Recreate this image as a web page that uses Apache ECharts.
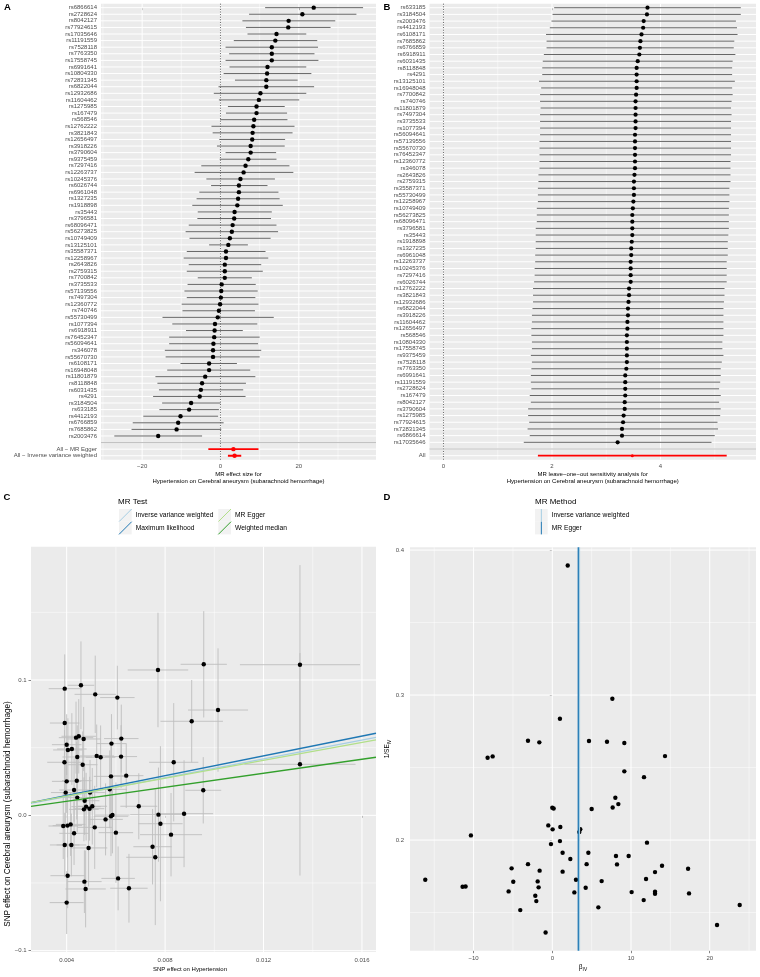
<!DOCTYPE html>
<html>
<head>
<meta charset="utf-8">
<script src="https://cdn.jsdelivr.net/npm/echarts@6.0.0/dist/echarts.min.js"></script>
<style>
html,body{margin:0;padding:0;background:#ffffff;}
#chart{width:760px;height:977px;}
</style>
</head>
<body>
<div id="chart"></div>
<script>
// ================= DATA =================
// Panel A: single SNP forest plot
const snpA = ['rs6866614','rs2728624','rs8042127','rs77924615','rs17035646','rs11191559','rs7528118','rs7763350','rs17558745','rs6991641','rs10804330','rs72831345','rs6822044','rs12932686','rs11604462','rs1275985','rs167479','rs568546','rs12762222','rs3821843','rs12656497','rs3918226','rs3790604','rs9375459','rs7297416','rs12263737','rs10245376','rs6026744','rs6961048','rs1327235','rs1918898','rs35443','rs3796581','rs68096471','rs56273825','rs10749409','rs13125101','rs35587371','rs12258967','rs2643826','rs2759315','rs7700842','rs3735533','rs57139556','rs7497304','rs12360772','rs740746','rs55730499','rs1077394','rs6918911','rs76452347','rs56094641','rs346078','rs55670730','rs6108171','rs16948048','rs11801879','rs8118848','rs6031435','rs4291','rs3184504','rs633185','rs4412193','rs6766859','rs7685862','rs2003476'];
const betaA = [23.8,20.9,17.4,17.3,14.3,14.0,13.1,13.1,13.1,12.0,11.9,11.7,11.7,10.2,9.8,9.2,9.2,8.6,8.4,8.2,8.1,7.7,7.7,7.1,6.4,5.9,5.1,4.7,4.7,4.5,4.3,3.6,3.5,3.1,2.9,2.4,2.0,1.4,1.4,1.1,1.1,1.1,0.3,0.2,0.1,-0.1,-0.4,-0.7,-1.4,-1.5,-1.6,-1.8,-1.9,-1.9,-2.9,-2.9,-3.9,-4.7,-5.0,-5.3,-7.5,-8.0,-10.2,-10.8,-11.2,-15.9];
const lowA = [11.4,7.3,5.6,6.5,6.9,3.4,1.3,2.2,1.3,2.3,0.8,3.7,-0.5,-1.7,-0.4,1.9,1.4,-0.1,-2.3,-2.0,-0.3,-0.9,1.3,-0.2,-4.9,-6.6,-3.6,-2.4,-5.4,-6.1,-7.2,-5.8,-5.9,-8.1,-8.9,-7.9,-2.9,-8.6,-9.4,-8.1,-8.6,-5.8,-8.4,-9.2,-8.6,-9.9,-9.7,-14.8,-12.3,-8.8,-13.1,-13.1,-14.2,-14.0,-10.2,-13.6,-16.6,-16.1,-15.7,-17.2,-14.9,-15.6,-19.7,-22.4,-22.7,-27.1];
const highA = [36.4,34.7,29.3,28.1,21.9,24.7,24.9,24.0,25.0,21.9,23.2,19.7,23.9,21.9,20.1,16.4,17.0,17.1,18.9,18.4,16.5,16.4,14.2,14.3,17.6,18.6,13.9,12.0,14.8,15.1,15.9,13.1,12.9,14.3,14.7,12.8,7.0,11.5,12.2,10.4,10.8,8.0,9.0,9.5,8.9,9.7,8.8,13.6,9.4,5.7,10.0,9.6,10.4,10.0,4.2,7.6,8.9,6.5,5.8,6.4,0.0,-0.4,-0.6,0.8,0.2,-4.7];
const summaryLabelsA = ['All \u2212 MR Egger', 'All \u2212 Inverse variance weighted'];
const summaryBetaA = [3.3, 3.6];
const summaryLowA = [-3.1, 1.9];
const summaryHighA = [9.7, 5.3];
const ticksA = [-20, 0, 20];
const minorTicksA = [-30, -10, 10, 30];
const nullEffect = [0];

// Panel B: leave-one-out
const snpB = ['rs633185','rs3184504','rs2003476','rs4412193','rs6108171','rs7685862','rs6766859','rs6918911','rs6031435','rs8118848','rs4291','rs13125101','rs16948048','rs7700842','rs740746','rs11801879','rs7497304','rs3735533','rs1077394','rs56094641','rs57139556','rs55670730','rs76452347','rs12360772','rs346078','rs2643826','rs2759315','rs35587371','rs55730499','rs12258967','rs10749409','rs56273825','rs68096471','rs3796581','rs35443','rs1918898','rs1327235','rs6961048','rs12263737','rs10245376','rs7297416','rs6026744','rs12762222','rs3821843','rs12932686','rs6822044','rs3918226','rs11604462','rs12656497','rs568546','rs10804330','rs17558745','rs9375459','rs7528118','rs7763350','rs6991641','rs11191559','rs2728624','rs167479','rs8042127','rs3790604','rs1275985','rs77924615','rs72831345','rs6866614','rs17035646'];
const betaB = [3.76,3.75,3.69,3.68,3.65,3.63,3.62,3.61,3.58,3.56,3.56,3.56,3.56,3.55,3.54,3.54,3.54,3.54,3.54,3.53,3.53,3.53,3.53,3.53,3.53,3.52,3.51,3.51,3.51,3.50,3.49,3.48,3.48,3.48,3.48,3.47,3.46,3.46,3.45,3.45,3.45,3.45,3.42,3.42,3.41,3.40,3.40,3.39,3.39,3.38,3.38,3.38,3.38,3.38,3.37,3.35,3.35,3.35,3.35,3.34,3.34,3.32,3.31,3.29,3.29,3.21];
const lowB = [2.04,2.01,1.99,1.96,1.89,1.90,1.90,1.85,1.83,1.82,1.82,1.76,1.80,1.78,1.78,1.79,1.78,1.78,1.78,1.78,1.77,1.77,1.77,1.77,1.77,1.75,1.75,1.74,1.74,1.74,1.72,1.72,1.72,1.70,1.70,1.70,1.70,1.69,1.69,1.68,1.68,1.67,1.65,1.65,1.65,1.64,1.63,1.63,1.62,1.62,1.63,1.63,1.61,1.63,1.62,1.61,1.61,1.62,1.59,1.61,1.56,1.56,1.58,1.55,1.59,1.48];
const highB = [5.48,5.48,5.39,5.41,5.42,5.36,5.35,5.38,5.33,5.32,5.32,5.37,5.32,5.33,5.31,5.30,5.31,5.30,5.30,5.30,5.30,5.30,5.30,5.29,5.29,5.29,5.29,5.27,5.27,5.27,5.26,5.26,5.26,5.26,5.25,5.24,5.24,5.24,5.22,5.22,5.22,5.22,5.18,5.18,5.17,5.16,5.16,5.16,5.16,5.16,5.14,5.14,5.16,5.13,5.11,5.11,5.10,5.08,5.11,5.08,5.11,5.10,5.05,5.06,5.00,4.94];
const summaryLabelsB = ['All'];
const summaryBetaB = [3.48];
const summaryLowB = [1.74];
const summaryHighB = [5.22];
const ticksB = [0, 2, 4];
const minorTicksB = [1, 3, 5];

// Panel C: scatter of SNP effects
const snpExpC = [0.00392,0.00458,0.00516,0.00606,0.00771,0.00957,0.01348,0.01015,0.00908,0.00392,0.00400,0.00405,0.00421,0.00438,0.00449,0.00469,0.00443,0.00391,0.00465,0.00522,0.00538,0.00582,0.00622,0.00621,0.00580,0.00642,0.00835,0.00400,0.00441,0.00396,0.00430,0.00443,0.00495,0.00575,0.00473,0.00470,0.00479,0.00493,0.00504,0.00693,0.00955,0.01348,0.00773,0.00877,0.00580,0.00586,0.00558,0.00386,0.00403,0.00416,0.00514,0.00781,0.00430,0.00600,0.00824,0.00392,0.00419,0.00489,0.00749,0.00760,0.00404,0.00609,0.00472,0.00477,0.00653,0.00400];
const snpOutC = [0.0936,0.0961,0.0894,0.0870,0.1074,0.1116,0.1113,0.0778,0.0695,0.0682,0.0522,0.0483,0.0490,0.0574,0.0584,0.0564,0.0431,0.0392,0.0374,0.0439,0.0429,0.0530,0.0567,0.0434,0.0288,0.0293,0.0392,0.0251,0.0256,0.0168,0.0187,0.0131,0.0168,0.0192,0.0108,0.0044,0.0064,0.0049,0.0067,0.0067,0.0185,0.0377,0.0005,0.0012,-0.0007,0.0002,-0.0030,-0.0079,-0.0076,-0.0067,-0.0089,-0.0062,-0.0133,-0.0128,-0.0143,-0.0219,-0.0219,-0.0241,-0.0232,-0.0310,-0.0446,-0.0466,-0.0490,-0.0544,-0.0539,-0.0645];
const seExpC = [0.00065,0.00054,0.00084,0.0007,0.00123,0.00094,0.00244,0.00122,0.00127,0.0006,0.0006,0.0006,0.0006,0.0007,0.0007,0.0007,0.0006,0.0007,0.0006,0.0007,0.0006,0.0006,0.0007,0.00065,0.0007,0.0007,0.001,0.0006,0.0006,0.0006,0.0006,0.0006,0.0006,0.0007,0.0006,0.0006,0.0006,0.0006,0.0006,0.00075,0.00073,0.00226,0.00115,0.00118,0.0007,0.0007,0.0007,0.0006,0.0006,0.0006,0.0007,0.0009,0.0006,0.0007,0.00126,0.0006,0.0006,0.00076,0.00078,0.00118,0.0007,0.00068,0.0007,0.00082,0.00076,0.00069];
const seOutC = [0.0253,0.0324,0.0286,0.0235,0.0423,0.0393,0.0736,0.0456,0.0305,0.0240,0.0225,0.0234,0.0265,0.0266,0.0275,0.0237,0.0234,0.0238,0.0246,0.0232,0.0235,0.0218,0.0251,0.0232,0.0262,0.0239,0.0437,0.0233,0.0287,0.0237,0.0234,0.0257,0.0241,0.0288,0.0253,0.0236,0.0250,0.0236,0.0283,0.0244,0.0245,0.0822,0.0348,0.0395,0.0294,0.0283,0.0266,0.0244,0.0235,0.0233,0.0307,0.0573,0.0234,0.0371,0.0308,0.0238,0.0232,0.0285,0.0279,0.0501,0.0240,0.0236,0.0232,0.0284,0.0254,0.0232];
const methodsC = ['Inverse variance weighted', 'Maximum likelihood', 'MR Egger', 'Weighted median'];
const slopeC = [3.48, 3.66, 3.30, 2.59];
const interceptC = [0, 0, 0.001, 0];
const ticksXC = [0.004, 0.008, 0.012, 0.016];
const minorXC = [0.006, 0.010, 0.014];
const ticksYC = [-0.1, 0, 0.1];
const minorYC = [-0.05, 0.05, 0.15];

// Panel D: funnel plot
const betaIVD = [1.96,7.63,0.97,-3.09,-1.65,4.66,6.95,9.15,-8.22,-7.58,14.32,9.15,11.65,8.01,8.39,7.67,5.00,0.00,0.17,-0.51,0.04,1.02,3.43,3.55,-10.34,-0.17,0.97,12.03,1.31,4.58,2.29,8.09,9.70,-3.09,4.36,8.22,13.94,-5.17,-1.61,17.25,1.31,13.05,-16.14,3.01,11.91,-4.96,-1.86,6.27,-11.40,-11.02,-1.74,4.24,-5.55,2.80,10.08,13.05,13.05,17.37,-2.16,-2.03,11.61,-4.07,5.85,23.81,20.93,-0.85];
const invSeD = [0.3894,0.2975,0.2837,0.2685,0.2674,0.2683,0.2678,0.2669,0.2568,0.2577,0.2579,0.2474,0.2434,0.2292,0.2248,0.2225,0.2214,0.2223,0.2218,0.2101,0.2074,0.2090,0.2055,0.2075,0.2032,0.1972,0.1993,0.1982,0.1913,0.1913,0.1869,0.1890,0.1890,0.1834,0.1834,0.1832,0.1823,0.1805,0.1789,0.1802,0.1782,0.1779,0.1726,0.1726,0.1731,0.1713,0.1715,0.1717,0.1678,0.1680,0.1674,0.1671,0.1646,0.1639,0.1641,0.1644,0.1630,0.1632,0.1616,0.1579,0.1586,0.1517,0.1536,0.1552,0.1414,0.1363];
const methodsD = ['Inverse variance weighted', 'MR Egger'];
const estimateD = [3.45, 3.30];
const ticksXD = [-10, 0, 10, 20];
const minorXD = [-15, -5, 5, 15, 25];
const ticksYD = [0.2, 0.3, 0.4];
const minorYD = [0.15, 0.25, 0.35];

// ================= STYLE / LAYOUT =================
const FONT = '"Liberation Sans", Arial, Helvetica, sans-serif';
const PANEL_BG = '#EBEBEB';
const AXIS_TXT = '#4D4D4D';
const TICK_COL = '#333333';
const MAJOR = {stroke: '#FFFFFF', lineWidth: 1};
const MINOR = {stroke: '#FFFFFF', lineWidth: 0.5};
const COLORS_C = ['#A6CEE3', '#1F78B4', '#B2DF8A', '#33A02C'];
const COLORS_D = ['#A6CEE3', '#1F78B4'];
const RANGE = {
  A: {x: [-30.5, 39.7], y: [-0.6, 68.6]},
  B: {x: [-0.258, 5.76], y: [-0.6, 67.6]},
  C: {x: [0.00255, 0.01657], y: [-0.101, 0.1985]},
  D: {x: [-18.08, 25.88], y: [0.1237, 0.4019]}
};

const rowsA = snpA.concat([''], summaryLabelsA);
const rowsB = snpB.concat([''], summaryLabelsB);

function fmt(v, d) {
  const s = Math.abs(v).toFixed(d);
  return (v < -1e-12 ? '\u2212' : '') + s;
}
function idxs(arr) { return arr.map((_, i) => i); }

function valueAxis(gi, range, ticks, digits, o) {
  o = o || {};
  const ax = {
    type: 'value', gridIndex: gi, min: range[0], max: range[1],
    inverse: !!o.inverse,
    axisLine: {show: false},
    splitLine: {show: false},
    minorSplitLine: {show: false},
    axisTick: {show: o.tick !== false, customValues: ticks, length: 2.5, lineStyle: {color: TICK_COL, width: 0.6}},
    axisLabel: {
      show: true, customValues: ticks, hideOverlap: false,
      formatter: o.formatter || (v => fmt(v, digits)),
      color: AXIS_TXT, fontSize: o.fontSize || 6, fontFamily: FONT, margin: o.margin || 4
    }
  };
  if (o.name) {
    ax.name = o.name;
    ax.nameLocation = 'middle';
    ax.nameGap = o.nameGap;
    ax.nameTextStyle = Object.assign({fontSize: 6, fontFamily: FONT, color: '#000', lineHeight: 6.8}, o.nameStyle || {});
  }
  return ax;
}

function gridLinesV(ai, values, style, z, yRef) {
  return {
    type: 'custom', xAxisIndex: ai, yAxisIndex: ai, z: z, silent: true,
    data: values.map(v => [v, yRef]),
    encode: {x: 0, y: 1},
    renderItem: (params, api) => {
      const cs = params.coordSys;
      const p = api.coord([api.value(0), api.value(1)]);
      return {type: 'line', shape: {x1: p[0], y1: cs.y, x2: p[0], y2: cs.y + cs.height}, style: Object.assign({}, style)};
    }
  };
}
function gridLinesH(ai, values, style, z, xRef) {
  return {
    type: 'custom', xAxisIndex: ai, yAxisIndex: ai, z: z, silent: true,
    data: values.map(v => [xRef, v]),
    encode: {x: 0, y: 1},
    renderItem: (params, api) => {
      const cs = params.coordSys;
      const p = api.coord([api.value(0), api.value(1)]);
      return {type: 'line', shape: {x1: cs.x, y1: p[1], x2: cs.x + cs.width, y2: p[1]}, style: Object.assign({}, style)};
    }
  };
}
function hBars(ai, lows, highs, ys, style, z) {
  return {
    type: 'custom', xAxisIndex: ai, yAxisIndex: ai, z: z, silent: true, clip: true,
    data: lows.map((l, i) => [l, highs[i], ys[i]]),
    encode: {x: [0, 1], y: 2},
    renderItem: (params, api) => {
      const a = api.coord([api.value(0), api.value(2)]);
      const b = api.coord([api.value(1), api.value(2)]);
      return {type: 'line', shape: {x1: a[0], y1: a[1], x2: b[0], y2: b[1]}, style: Object.assign({}, style)};
    }
  };
}
function vBars(ai, xs, lows, highs, style, z) {
  return {
    type: 'custom', xAxisIndex: ai, yAxisIndex: ai, z: z, silent: true, clip: true,
    data: xs.map((x, i) => [x, lows[i], highs[i]]),
    encode: {x: 0, y: [1, 2]},
    renderItem: (params, api) => {
      const a = api.coord([api.value(0), api.value(1)]);
      const b = api.coord([api.value(0), api.value(2)]);
      return {type: 'line', shape: {x1: a[0], y1: a[1], x2: b[0], y2: b[1]}, style: Object.assign({}, style)};
    }
  };
}
function points(ai, data, color, size, z) {
  return {
    type: 'scatter', xAxisIndex: ai, yAxisIndex: ai, z: z, silent: true,
    symbol: 'circle', symbolSize: size, itemStyle: {color: color, opacity: 1},
    data: data
  };
}

// ================= SERIES =================
const series = [];
// ---- A ----
const rowIdxA = idxs(snpA);
const sumIdxA = summaryLabelsA.map((_, k) => snpA.length + 1 + k);
series.push(gridLinesV(0, minorTicksA, MINOR, 1, 0));
series.push(gridLinesV(0, ticksA, MAJOR, 1, 0));
series.push(gridLinesH(0, idxs(rowsA), MAJOR, 1, 0));
series.push(gridLinesV(0, nullEffect, {stroke: '#333333', lineWidth: 0.8, lineDash: [1, 1.6]}, 2, 0));
series.push(gridLinesH(0, [snpA.length], {stroke: '#BEBEBE', lineWidth: 1}, 2, 0));
series.push(hBars(0, lowA, highA, rowIdxA, {stroke: '#555555', lineWidth: 0.9}, 3));
series.push(hBars(0, summaryLowA, summaryHighA, sumIdxA, {stroke: '#FF0000', lineWidth: 1.8}, 3));
series.push(points(0, betaA.map((b, i) => [b, i]), '#000000', 4.4, 4));
series.push(points(0, summaryBetaA.map((b, k) => [b, sumIdxA[k]]), '#FF0000', 4.4, 4));
// ---- B ----
const rowIdxB = idxs(snpB);
const sumIdxB = summaryLabelsB.map((_, k) => snpB.length + 1 + k);
series.push(gridLinesV(1, minorTicksB, MINOR, 1, 0));
series.push(gridLinesV(1, ticksB, MAJOR, 1, 0));
series.push(gridLinesH(1, idxs(rowsB), MAJOR, 1, 0));
series.push(gridLinesV(1, nullEffect, {stroke: '#333333', lineWidth: 0.8, lineDash: [1, 1.6]}, 2, 0));
series.push(gridLinesH(1, [snpB.length], {stroke: '#BEBEBE', lineWidth: 1}, 2, 0));
series.push(hBars(1, lowB, highB, rowIdxB, {stroke: '#555555', lineWidth: 0.9}, 3));
series.push(hBars(1, summaryLowB, summaryHighB, sumIdxB, {stroke: '#FF0000', lineWidth: 1.8}, 3));
series.push(points(1, betaB.map((b, i) => [b, i]), '#000000', 4.2, 4));
series.push(points(1, summaryBetaB.map((b, k) => [b, sumIdxB[k]]), '#FF0000', 3, 4));
// ---- C ----
series.push(gridLinesV(2, minorXC, MINOR, 1, 0));
series.push(gridLinesV(2, ticksXC, MAJOR, 1, 0));
series.push(gridLinesH(2, minorYC, MINOR, 1, 0.008));
series.push(gridLinesH(2, ticksYC, MAJOR, 1, 0.008));
series.push(vBars(2, snpExpC, snpOutC.map((y, i) => y - seOutC[i]), snpOutC.map((y, i) => y + seOutC[i]), {stroke: '#BEBEBE', lineWidth: 0.9}, 3));
series.push(hBars(2, snpExpC.map((x, i) => x - seExpC[i]), snpExpC.map((x, i) => x + seExpC[i]), snpOutC, {stroke: '#BEBEBE', lineWidth: 0.9}, 3));
series.push(points(2, snpExpC.map((x, i) => [x, snpOutC[i]]), '#000000', 4.4, 4));
methodsC.forEach((m, k) => {
  series.push({
    type: 'line', name: m, xAxisIndex: 2, yAxisIndex: 2, z: 5, silent: true, clip: true,
    symbol: 'none', lineStyle: {color: COLORS_C[k], width: 1.3},
    data: RANGE.C.x.map(x => [x, interceptC[k] + slopeC[k] * x])
  });
});
// ---- D ----
series.push(gridLinesV(3, minorXD, MINOR, 1, 0.3));
series.push(gridLinesV(3, ticksXD, MAJOR, 1, 0.3));
series.push(gridLinesH(3, minorYD, MINOR, 1, 0));
series.push(gridLinesH(3, ticksYD, MAJOR, 1, 0));
series.push(points(3, betaIVD.map((b, i) => [b, invSeD[i]]), '#000000', 4.4, 4));
methodsD.forEach((m, k) => {
  series.push(gridLinesV(3, [estimateD[k]], {stroke: COLORS_D[k], lineWidth: 1.3}, 5, 0.3));
});

// ================= LEGENDS (graphic) =================
const graphic = [];
function gText(x, y, text, size, extra) {
  return Object.assign({type: 'text', x: x, y: y, silent: true,
    style: Object.assign({text: text, fontSize: size, fontFamily: FONT, fill: '#000', align: 'left', verticalAlign: 'middle'}, (extra && extra.style) || {})},
    extra && extra.rotation !== undefined ? {rotation: extra.rotation} : {});
}
// panel tags
[['A', 4, 7.5], ['B', 383.5, 7.5], ['C', 3.5, 497.5], ['D', 383.5, 497.5]].forEach(t => {
  graphic.push(gText(t[1], t[2], t[0], 9.5, {style: {fontWeight: 'bold'}}));
});
// C legend
const KEY = 12.7;
graphic.push(gText(118, 501.5, 'MR Test', 8));
methodsC.forEach((m, k) => {
  const col = Math.floor(k / 2), row = k % 2;
  const kx = [119, 218.3][col], ky = 509 + row * KEY;
  graphic.push({type: 'rect', silent: true, shape: {x: kx, y: ky, width: KEY, height: KEY}, style: {fill: '#F2F2F2'}});
  graphic.push({type: 'line', silent: true, shape: {x1: kx, y1: ky + KEY, x2: kx + KEY, y2: ky}, style: {stroke: COLORS_C[k], lineWidth: 1}});
  graphic.push(gText(kx + 16.7, ky + KEY / 2, m, 6.7));
});
// D legend
graphic.push(gText(535, 501.5, 'MR Method', 8));
methodsD.forEach((m, k) => {
  const kx = 535, ky = 509 + k * KEY;
  graphic.push({type: 'rect', silent: true, shape: {x: kx, y: ky, width: KEY, height: KEY}, style: {fill: '#F2F2F2'}});
  graphic.push({type: 'line', silent: true, shape: {x1: kx + KEY / 2, y1: ky, x2: kx + KEY / 2, y2: ky + KEY}, style: {stroke: COLORS_D[k], lineWidth: 1}});
  graphic.push(gText(kx + 16.7, ky + KEY / 2, m, 6.7));
});
// C axis titles
graphic.push(gText(190, 969.3, 'SNP effect on Hypertension', 6, {style: {align: 'center'}}));
graphic.push(gText(7.5, 814, 'SNP effect on Cerebral aneurysm (subarachnoid hemorrhage)', 8.2, {rotation: Math.PI / 2, style: {align: 'center'}}));

// ================= OPTION =================
const gridBase = {show: true, backgroundColor: PANEL_BG, borderWidth: 0, containLabel: false, outerBoundsMode: 'none'};
const subRich = {
  a: {fontSize: 6.5, fontFamily: FONT, color: '#000', lineHeight: 10, verticalAlign: 'middle'},
  s: {fontSize: 4.8, fontFamily: FONT, color: '#000', lineHeight: 5, verticalAlign: 'bottom'}
};
const option = {
  animation: false,
  textStyle: {fontFamily: FONT},
  grid: [
    Object.assign({left: 101, top: 3.7, width: 275, height: 456}, gridBase),
    Object.assign({left: 429.5, top: 3.7, width: 326.5, height: 456}, gridBase),
    Object.assign({left: 31, top: 546.7, width: 345, height: 405.3}, gridBase),
    Object.assign({left: 410, top: 547.3, width: 346, height: 403.4}, gridBase)
  ],
  xAxis: [
    valueAxis(0, RANGE.A.x, ticksA, 0, {margin: 4, name: 'MR effect size for\nHypertension on Cerebral aneurysm (subarachnoid hemorrhage)', nameGap: 11}),
    valueAxis(1, RANGE.B.x, ticksB, 0, {margin: 4, name: 'MR leave\u2212one\u2212out sensitivity analysis for\nHypertension on Cerebral aneurysm (subarachnoid hemorrhage)', nameGap: 11}),
    valueAxis(2, RANGE.C.x, ticksXC, 3, {margin: 5}),
    valueAxis(3, RANGE.D.x, ticksXD, 0, {margin: 4.5, name: '{a|\u03b2}{s|IV}', nameGap: 11, nameStyle: {rich: subRich, lineHeight: 10}})
  ],
  yAxis: [
    valueAxis(0, RANGE.A.y, idxs(rowsA), 0, {inverse: true, tick: false, margin: 4, formatter: v => rowsA[Math.round(v)] || ''}),
    valueAxis(1, RANGE.B.y, idxs(rowsB), 0, {inverse: true, tick: false, margin: 4, formatter: v => rowsB[Math.round(v)] || ''}),
    valueAxis(2, RANGE.C.y, ticksYC, 1, {margin: 4.3}),
    valueAxis(3, RANGE.D.y, ticksYD, 1, {margin: 6, name: '{a|1/SE}{s|IV}', nameGap: 14, nameStyle: {rich: subRich, lineHeight: 10}})
  ],
  series: series,
  graphic: graphic
};

const chart = echarts.init(document.getElementById('chart'), null, {renderer: 'canvas', width: 760, height: 977});
chart.setOption(option);
</script>
</body>
</html>
